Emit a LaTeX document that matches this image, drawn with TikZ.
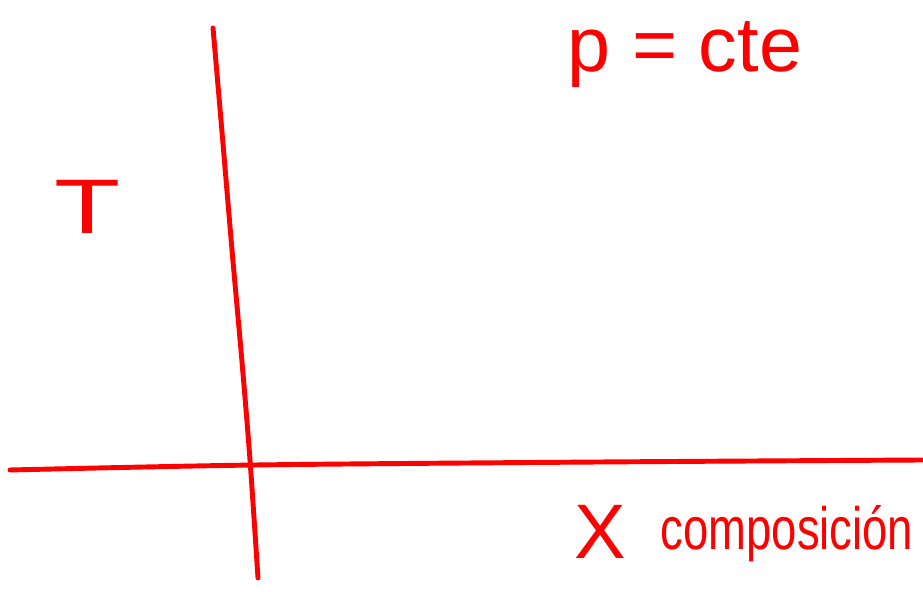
\documentclass[tikz,border=0pt]{standalone}
\usepackage{fontspec}
\setmainfont{Liberation Sans}
\definecolor{pen}{RGB}{255,0,0}
\begin{document}
\begin{tikzpicture}
  \useasboundingbox (0,0) rectangle (9.23,5.92);
  \draw[line width=1.4pt,color=pen,line cap=round] plot[smooth] coordinates {(2.13,5.64) (2.22,4.60) (2.32,3.42) (2.42,2.30) (2.50,1.32) (2.58,0.14)};
  \draw[line width=1.4pt,color=pen,line cap=round] plot[smooth] coordinates {(0.10,1.22) (2.55,1.27) (6.00,1.30) (9.23,1.32)};
  \node[color=pen,font=\fontsize{22}{26}\selectfont] (pres) at (6.85,5.37) {p\;=\;cte};
  \node[color=pen,font=\fontsize{22}{26}\selectfont,xscale=1.4,transform shape] (temp) at (0.88,3.85) {T};
  \node[color=pen,font=\fontsize{22}{26}\selectfont] (comp) at (6.00,0.60) {X};
  \node[color=pen,font=\fontsize{17}{20}\selectfont,xscale=0.76,transform shape] (name) at (7.87,0.58) {composición};
\end{tikzpicture}
\end{document}
